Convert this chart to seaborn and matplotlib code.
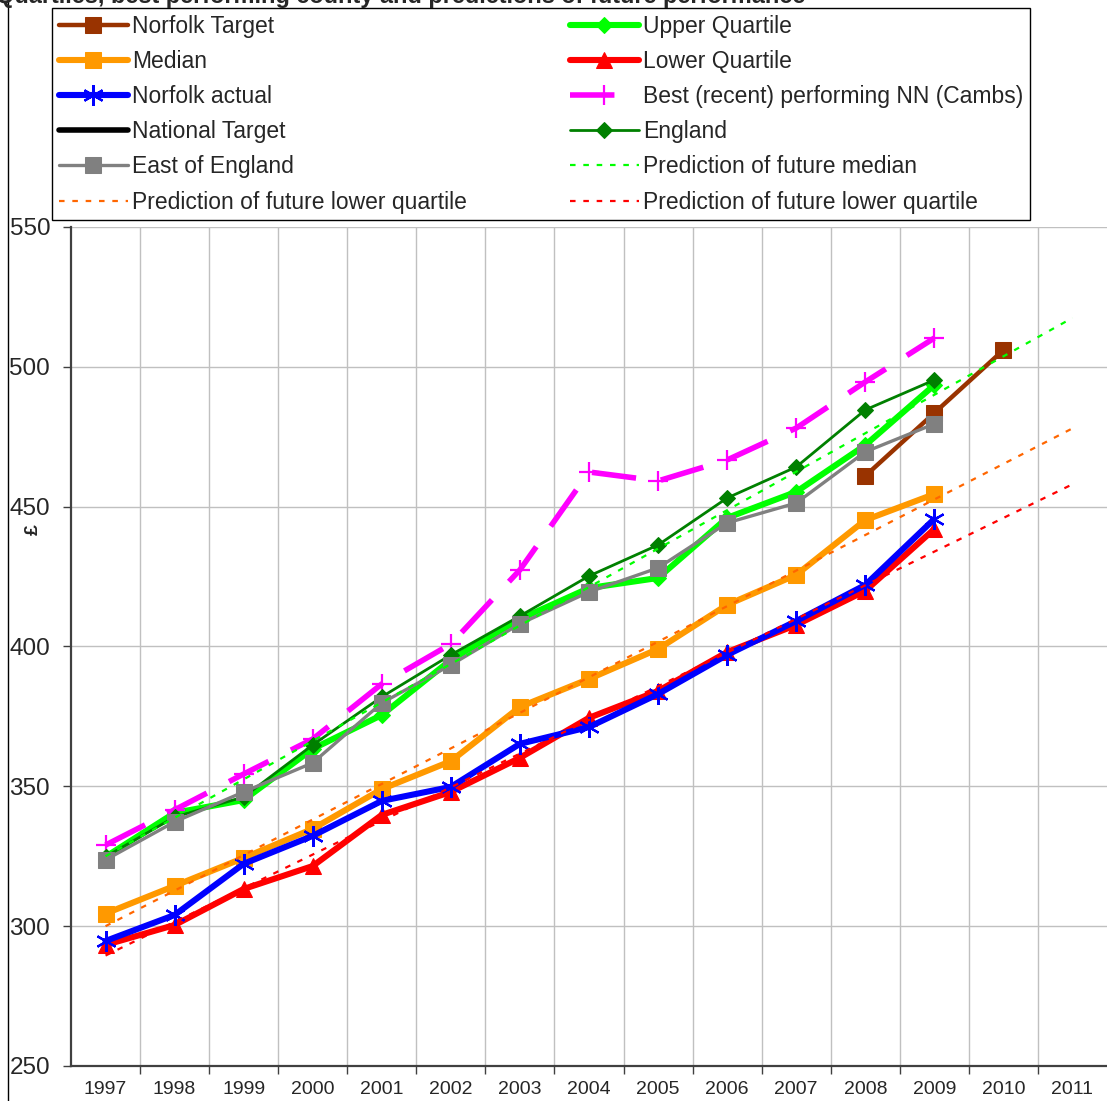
import matplotlib
matplotlib.use("Agg")
import matplotlib.pyplot as plt
import seaborn as sns
import pandas as pd
from matplotlib.lines import Line2D

# ---------------- data ----------------
years = list(range(1997, 2012))
data_years = list(range(1997, 2010))
target_years = [2008, 2009, 2010]
norfolk_target = [461.0, 483.5, 506.0]
upper_quartile = [324.8, 340.5, 345.1, 363.4, 375.5, 395.2, 409.8, 420.9, 424.5, 446.0, 455.3, 472.0, 493.5]
median = [304.5, 314.4, 324.4, 334.8, 349.0, 359.0, 378.4, 388.4, 399.1, 414.9, 425.6, 445.2, 454.5]
lower_quartile = [293.3, 300.4, 313.3, 321.5, 339.8, 348.0, 360.2, 374.5, 384.1, 398.0, 407.7, 419.9, 442.0]
norfolk_actual = [294.7, 304.0, 322.3, 332.3, 344.8, 349.8, 365.2, 371.2, 383.0, 397.0, 409.1, 422.0, 445.6]
best_nn = [329.0, 341.6, 354.4, 366.9, 386.6, 400.9, 427.4, 462.4, 459.2, 466.7, 478.1, 494.6, 510.3]
england = [324.8, 339.0, 346.2, 364.8, 382.0, 397.0, 410.9, 425.2, 436.3, 453.1, 464.2, 484.6, 495.3]
east_of_england = [323.7, 337.3, 348.0, 358.4, 379.8, 393.4, 408.1, 419.5, 428.1, 444.2, 451.3, 469.6, 479.6]
trend_years = [1997, 2011]
pred_median = [325.0, 517.5]
pred_lq_orange = [300.0, 478.0]
pred_lq_red = [289.5, 458.0]
y_ticks = [250, 300, 350, 400, 450, 500, 550]

title = "Quartiles, best performing county and predictions of future performance"

# ---------------- style ----------------
sns.set_theme(style="white")
plt.rcParams['font.family'] = ['Liberation Sans', 'DejaVu Sans']

W, H = 1107, 1101
fig = plt.figure(figsize=(W / 100, H / 100), dpi=100)
ax = fig.add_axes([71 / W, 35 / H, 1036 / W, 839 / H])

def draw(x, y, label, **kw):
    df = pd.DataFrame({"x": x, "y": y})
    sns.lineplot(data=df, x="x", y="y", ax=ax, label=label, sort=False, **kw)

draw(target_years, norfolk_target, "Norfolk Target", color="#993300", lw=3.2,
     marker="s", markersize=11, markeredgecolor="#993300")
draw(data_years, upper_quartile, "Upper Quartile", color="#00FF00", lw=4.4,
     marker="D", markersize=8, markeredgecolor="#00FF00")
draw(data_years, median, "Median", color="#FF9900", lw=4.4,
     marker="s", markersize=11, markeredgecolor="#FF9900")
draw(data_years, lower_quartile, "Lower Quartile", color="#FF0000", lw=4.4,
     marker="^", markersize=12, markeredgecolor="#FF0000")
draw(data_years, norfolk_actual, "Norfolk actual", color="#0000FF", lw=4.4,
     marker=(6, 2, 0), markersize=15, markeredgewidth=1.6, markeredgecolor="#0000FF")
draw(data_years, best_nn, "Best (recent) performing NN (Cambs)", color="#FF00FF", lw=4.0,
     linestyle=(0, (8.0, 4.5)), dash_capstyle="butt",
     marker="+", markersize=15, markeredgewidth=1.6, markeredgecolor="#FF00FF")
draw(data_years, england, "England", color="#008000", lw=2.0,
     marker="D", markersize=8, markeredgecolor="#008000")
draw(data_years, east_of_england, "East of England", color="#808080", lw=2.4,
     marker="s", markersize=11, markeredgecolor="#808080")
draw(trend_years, pred_median, "Prediction of future median", color="#00FF00", lw=1.6,
     linestyle=(0, (2.5, 3.5)))
draw(trend_years, pred_lq_orange, "Prediction of future lower quartile ", color="#FF6600", lw=1.6,
     linestyle=(0, (2.5, 3.5)))
draw(trend_years, pred_lq_red, "Prediction of future lower quartile", color="#FF0000", lw=1.6,
     linestyle=(0, (2.5, 3.5)))

# ---------------- axes ----------------
ax.set_xlim(1996.5, 2011.5)
ax.set_ylim(250, 550)
ax.set_xticks(years)
ax.set_xticklabels([str(y) for y in years], fontsize=14)
ax.set_xticks([y + 0.5 for y in years[:-1]], minor=True)
ax.tick_params(axis="x", which="major", length=0, pad=11)
ax.tick_params(axis="x", which="minor", length=6, width=1, color="#404040", direction="out", bottom=True)
ax.set_yticks(y_ticks)
ax.set_yticklabels([str(v) for v in y_ticks], fontsize=17.5)
ax.tick_params(axis="y", length=6, width=1, color="#404040", direction="out", pad=9, left=True)
ax.grid(False)
ax.grid(True, axis="y", which="major", color="#C0C0C0", lw=1.0)
ax.grid(True, axis="x", which="minor", color="#C0C0C0", lw=1.0)
ax.set_axisbelow(True)
for s in ["top", "right"]:
    ax.spines[s].set_visible(False)
for s in ["left", "bottom"]:
    ax.spines[s].set_color("#404040")
    ax.spines[s].set_linewidth(1.6)
ax.set_xlabel("")
ax.set_ylabel("")

# ---------------- legend ----------------
handles, labels = ax.get_legend_handles_labels()
hmap = dict(zip(labels, handles))
nat = Line2D([], [], color="black", lw=4.0)
hmap["National Target"] = nat
order = ["Norfolk Target", "Median", "Norfolk actual", "National Target", "East of England",
         "Prediction of future lower quartile ",
         "Upper Quartile", "Lower Quartile", "Best (recent) performing NN (Cambs)", "England",
         "Prediction of future median", "Prediction of future lower quartile"]
leg = ax.legend([hmap[k] for k in order], [k.strip() for k in order], ncol=2,
                loc="upper left", bbox_to_anchor=(52 / W, 1 - 8 / H), bbox_transform=fig.transFigure,
                borderaxespad=0, fontsize=16.5, frameon=True, fancybox=False, framealpha=1,
                edgecolor="black", borderpad=0.3, handlelength=3.0, handletextpad=0.2,
                columnspacing=4.48, labelspacing=0.53)
leg.get_frame().set_linewidth(1.0)

# ---------------- texts / border ----------------
fig.text(-4 / W, 1 - 3 / H, title, fontsize=16.9, fontweight="bold", ha="left", va="baseline")
fig.text(33 / W, 1 - 530 / H, "£", fontsize=14, fontweight="bold", rotation=90,
         ha="center", va="center")
fig.add_artist(Line2D([8 / W, 8 / W], [0, 1], color="black", lw=1.0, transform=fig.transFigure))

fig.savefig("out.png", dpi=100)
